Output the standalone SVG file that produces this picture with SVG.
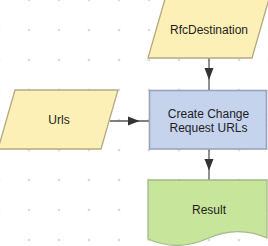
<svg xmlns="http://www.w3.org/2000/svg" width="268" height="246" viewBox="0 0 268 246">
<style>
.t{font-family:"Liberation Sans",Arial,sans-serif;font-size:12px;fill:#1e1e1e;text-anchor:middle}
.io{fill:#fcf0b6;stroke:#b3a981;stroke-width:1.3}
.proc{fill:#c5d3ed;stroke:#98a4bd;stroke-width:1.6}
.doc{fill:#c7e69b;stroke:#a3b98c;stroke-width:1.3}
.ln{stroke:#555;stroke-width:1.3;fill:none}
.ah{fill:#333;stroke:none}
</style>
<defs>
<pattern id="grid" patternUnits="userSpaceOnUse" x="-16" y="-15" width="30" height="30">
<rect x="14" y="14" width="2" height="2" fill="#d6d6d6"/>
<rect x="13.5" y="14.5" width="3" height="1" fill="#e0e0e0"/>
<rect x="14.5" y="13.5" width="1" height="3" fill="#e0e0e0"/>
</pattern>
</defs>
<rect width="268" height="246" fill="#fff"/>
<rect width="268" height="246" fill="url(#grid)"/>
<g id="connectors">
<line class="ln" x1="209" y1="58" x2="209" y2="90"/>
<path class="ah" d="M204.5,68 L213.5,68 L209,80 Z"/>
<line class="ln" x1="110" y1="121" x2="149" y2="121"/>
<path class="ah" d="M128,116.5 L128,125.5 L139.5,121 Z"/>
<line class="ln" x1="209" y1="149" x2="209" y2="180"/>
<path class="ah" d="M204.5,159 L213.5,159 L209,170.5 Z"/>
</g>
<g id="rfcdestination">
<path class="io" d="M165,-1 L269,-1 L252,58 L148,58 Z"/>
<text class="t" x="209" y="33.5">RfcDestination</text>
</g>
<g id="urls">
<path class="io" d="M15,90 L118,90 L101,149 L-2,149 Z"/>
<text class="t" x="59" y="124.3">Urls</text>
</g>
<g id="create">
<rect class="proc" x="149.5" y="90.5" width="117" height="58.5"/>
<text class="t" x="208.5" y="117.5">Create Change</text>
<text class="t" x="208.5" y="131.5">Request URLs</text>
</g>
<g id="result">
<path class="doc" d="M148,180 H267 V238 Q237.5,225 207.5,238.5 Q177.5,252 148,239 Z"/>
<text class="t" x="209" y="213.5">Result</text>
</g>
</svg>
